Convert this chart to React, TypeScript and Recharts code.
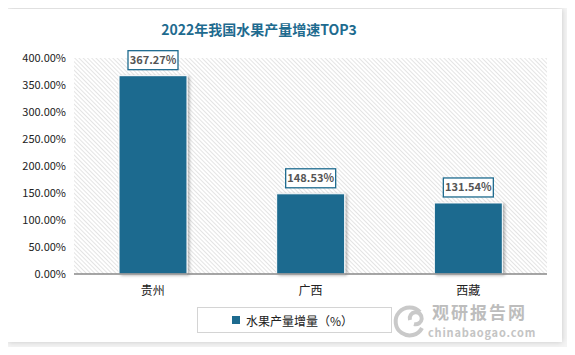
import React from "react";
import { BarChart, Bar, XAxis, YAxis, CartesianGrid, LabelList } from "recharts";

const regions = ["贵州", "广西", "西藏"];
const growth = [367.27, 148.53, 131.54];
const yTicks = [0, 50, 100, 150, 200, 250, 300, 350, 400];

const data = regions.map((name, i) => ({ name, value: growth[i] }));

const BLUE = "#1e6b8f";
const FONT = "'Noto Sans CJK SC', 'Noto Sans', sans-serif";

const ValueTag = (props: any) => {
  const { x, y, width, value } = props;
  const w = 50, h = 19;
  const cx = x + width / 2;
  const top = y - 6 - h;
  return (
    <g>
      <rect x={cx - w / 2} y={top} width={w} height={h} fill="#fff" stroke={BLUE} strokeWidth={1.3} />
      <text x={cx} y={top + h / 2 + 4} textAnchor="middle" fontSize={11} fontWeight={600} fill="#555" fontFamily={FONT}>
        {Number(value).toFixed(2)}%
      </text>
    </g>
  );
};

export default function App() {
  return (
    <div style={{ position: "relative", width: 575, height: 355, margin: -8, background: "#f4f4f4", fontFamily: FONT }}>
      <div style={{ position: "absolute", left: 8, top: 9, width: 554, height: 333, background: "#fff", boxShadow: "0 0 6px rgba(0,0,0,0.18)" }}>
        <div style={{ position: "absolute", left: 0, top: 10, width: 502, textAlign: "center", fontSize: 14, fontWeight: 700, color: BLUE }}>
          2022年我国水果产量增速TOP3
        </div>
        <BarChart width={554} height={333} data={data} margin={{ top: 49, right: 15, bottom: 38, left: 6 }}>
          <defs>
            <pattern id="hatch" patternUnits="userSpaceOnUse" width={3} height={3} patternTransform="rotate(-45)">
              <rect width={3} height={3} fill="#fff" />
              <line x1={0} y1={0} x2={0} y2={3} stroke="#d2d2d2" strokeWidth={1.2} />
            </pattern>
            <filter id="barShadow" x="-10%" y="-10%" width="130%" height="130%">
              <feDropShadow dx={2} dy={1} stdDeviation={1.5} floodColor="#000" floodOpacity={0.3} />
            </filter>
          </defs>
          <CartesianGrid horizontal={false} vertical={false} fill="url(#hatch)" fillOpacity={1} />
          <XAxis dataKey="name" height={30} tickLine={false} axisLine={{ stroke: "#888", strokeWidth: 1.5 }}
            tick={{ fontSize: 12, fill: "#222", fontFamily: FONT }} tickMargin={6} />
          <YAxis width={60} domain={[0, 400]} ticks={yTicks} interval={0} tickLine={false} axisLine={false}
            tick={{ fontSize: 11, fill: "#222", fontFamily: FONT }} tickFormatter={(v: number) => v.toFixed(2) + "%"} />
          <Bar dataKey="value" fill={BLUE} barSize={68} stroke="#fff" strokeWidth={1} filter="url(#barShadow)" isAnimationActive={false}>
            <LabelList dataKey="value" content={ValueTag} />
          </Bar>
        </BarChart>
        <div style={{ position: "absolute", left: 189, top: 298, width: 193, height: 24, border: "1px solid #d4d4d4", display: "flex", alignItems: "center", fontSize: 12, color: "#222" }}>
          <span style={{ display: "inline-block", width: 8, height: 8, background: BLUE, marginLeft: 34, marginRight: 6 }} />
          水果产量增量（%）
        </div>
        <svg style={{ position: "absolute", left: 372, top: 291 }} width={180} height={42}>
          <g fill="none" stroke="#c9c9c9" strokeWidth={4}>
            <path d="M 40 12 A 14 14 0 1 0 42 28" />
            <path d="M 30 20 A 6 6 0 1 1 34 24" />
          </g>
          <text x={52} y={19} fontSize={17} fontWeight={700} fill="#bdbdbd" fontFamily={FONT} letterSpacing={2}>观研报告网</text>
          <text x={48} y={37} fontSize={11} fontWeight={600} fill="#c4c4c4" fontFamily={FONT} letterSpacing={0.8}>chinabaogao.com</text>
        </svg>
      </div>
    </div>
  );
}
